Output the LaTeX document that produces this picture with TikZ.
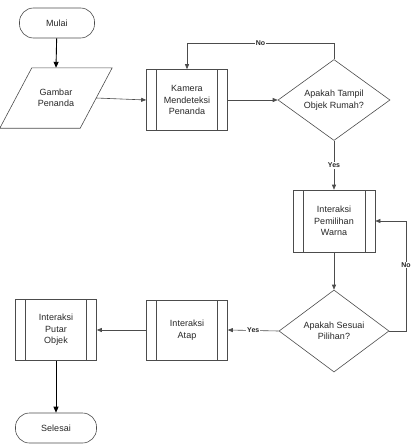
\documentclass[tikz,border=0pt]{standalone}
\usepackage{fontspec}
\setmainfont{Liberation Sans}
\usetikzlibrary{shapes.geometric,arrows.meta,calc}
\begin{document}
\begin{tikzpicture}[x=1pt,y=-1pt,
  every node/.style={font=\fontsize{9}{11.5}\selectfont, align=center, text=black!85},
  ln/.style={draw=black!70, line width=0.6pt},
  conn/.style={ln, -{Triangle[length=5pt,width=4pt]}},
  thick conn/.style={draw=black, line width=0.9pt, -{Triangle[length=6pt,width=5pt]}},
  term/.style={ln, rounded corners=14pt, minimum width=75pt, minimum height=30pt, inner sep=0pt},
  proc/.style={ln, minimum width=81pt, minimum height=61pt, inner sep=0pt,
    path picture={\draw[black!70, line width=0.6pt]
      ([xshift=10pt]path picture bounding box.north west) -- ([xshift=10pt]path picture bounding box.south west)
      ([xshift=-10pt]path picture bounding box.north east) -- ([xshift=-10pt]path picture bounding box.south east);}},
  dec/.style={ln, diamond, minimum width=112pt, minimum height=81pt, inner sep=0pt, aspect=1.38},
  lbl/.style={fill=white, inner sep=1pt, font=\fontsize{7}{8}\selectfont\bfseries}
]
\useasboundingbox (0,0) rectangle (413,447);
\node[term] (mulai) at (57,23) {Mulai};
\node[minimum width=80pt, minimum height=60pt, inner sep=0pt] (gambar) at (56,98) {Gambar\\Penanda};
\draw[ln] ([xshift=16pt]gambar.north west) -- ([xshift=16pt]gambar.north east)
  -- ([xshift=-16pt]gambar.south east) -- ([xshift=-16pt]gambar.south west) -- cycle;
\node[proc] (kamera) at (187,100) {Kamera\\Mendeteksi\\Penanda};
\node[dec] (d1) at (334,100) {Apakah Tampil\\Objek Rumah?};
\node[proc, minimum width=82pt, minimum height=62pt] (pem) at (334,221) {Interaksi\\Pemilihan\\Warna};
\node[dec, minimum width=110pt, minimum height=82pt] (d2) at (334,331) {Apakah Sesuai\\Pilihan?};
\node[proc, minimum height=60pt] (atap) at (187,330) {Interaksi\\Atap};
\node[proc] (putar) at (56,330) {Interaksi\\Putar\\Objek};
\node[term, minimum width=81pt] (selesai) at (56,428) {Selesai};

\coordinate (n1a) at (334,43);
\coordinate (n1b) at (187,43);
\coordinate (n2a) at (406,331);
\coordinate (n2b) at (406,221);

\draw[thick conn] (mulai) -- (gambar.north);
\draw[conn] (gambar.east) -- (kamera.west);
\draw[conn] (kamera.east) -- (d1.west);
\draw[conn] (d1.north) -- (n1a) -- node[lbl, pos=0.5] {No} (n1b) -- (kamera.north);
\draw[conn] (d1.south) -- node[lbl, pos=0.5] {Yes} (pem.north);
\draw[conn] (pem.south) -- (d2.north);
\draw[conn] (d2.east) -- (n2a) -- node[lbl, pos=0.6] {No} (n2b) -- (pem.east);
\draw[conn] (d2.west) -- node[lbl, pos=0.5] {Yes} (atap.east);
\draw[conn] (atap.west) -- (putar.east);
\draw[thick conn] (putar.south) -- (selesai.north);
\end{tikzpicture}
\end{document}
